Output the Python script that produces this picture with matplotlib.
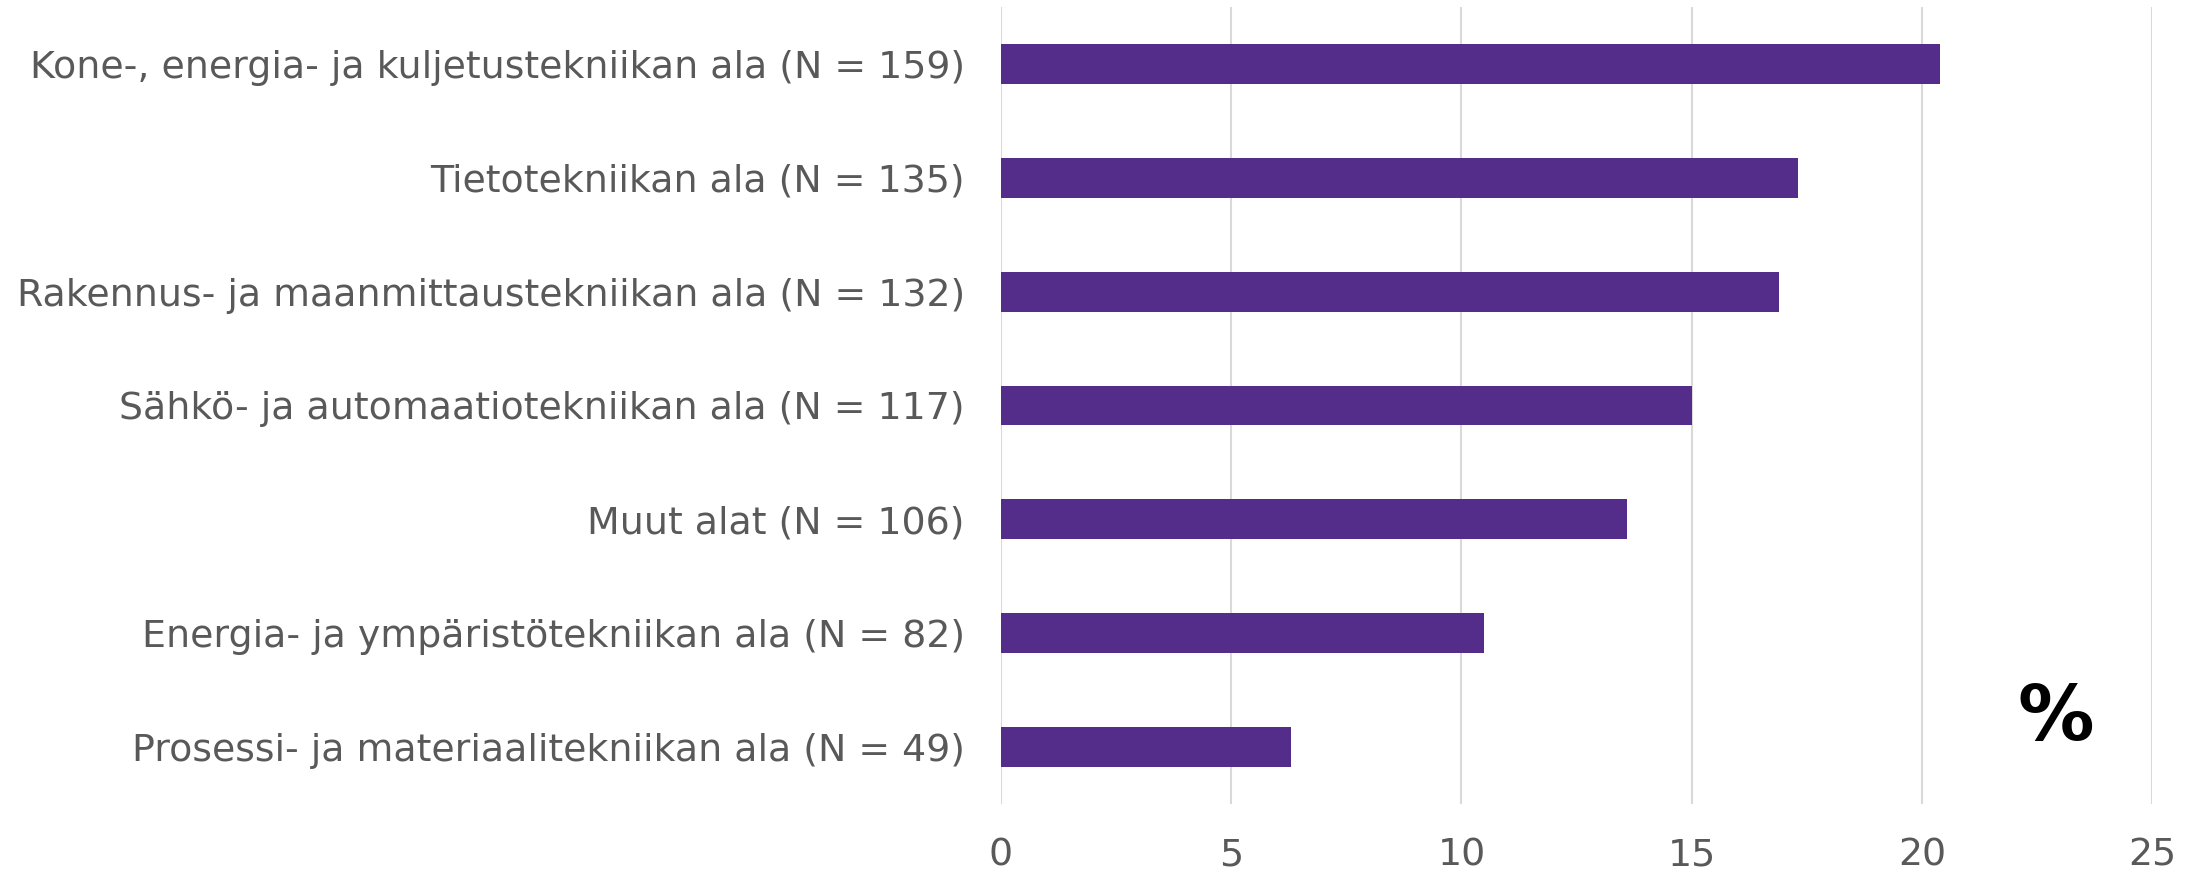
import matplotlib
matplotlib.use("Agg")
import matplotlib.pyplot as plt

categories = [
    "Kone-, energia- ja kuljetustekniikan ala (N = 159)",
    "Tietotekniikan ala (N = 135)",
    "Rakennus- ja maanmittaustekniikan ala (N = 132)",
    "Sähkö- ja automaatiotekniikan ala (N = 117)",
    "Muut alat (N = 106)",
    "Energia- ja ympäristötekniikan ala (N = 82)",
    "Prosessi- ja materiaalitekniikan ala (N = 49)",
]
values = [20.4, 17.3, 16.9, 15.0, 13.6, 10.5, 6.3]
xticks = [0, 5, 10, 15, 20, 25]

text_grey = "#595959"
bar_colour = "#542C8A"

fig = plt.figure(figsize=(22.03, 8.72), dpi=100)
ax = fig.add_axes([0.4544, 0.078, 0.9769 - 0.4544, 0.992 - 0.078])

pos = list(range(len(categories)))[::-1]
ax.barh(pos, values, height=0.35, color=bar_colour, zorder=3)

ax.set_xlim(0, 25)
ax.set_ylim(-0.5, len(categories) - 0.5)
ax.set_xticks(xticks)
ax.set_yticks(pos)
ax.set_yticklabels(categories)
ax.tick_params(axis="both", length=0, labelsize=27.3, labelcolor=text_grey)
ax.tick_params(axis="y", pad=26)
ax.tick_params(axis="x", pad=24)

ax.grid(axis="x", color="#d9d9d9", linewidth=1.5, zorder=0)
for s in ax.spines.values():
    s.set_visible(False)

fig.text(0.933, 0.175, "%", fontsize=55, fontweight="bold",
         color="black", ha="center", va="center")

fig.savefig("out.png", dpi=100)
